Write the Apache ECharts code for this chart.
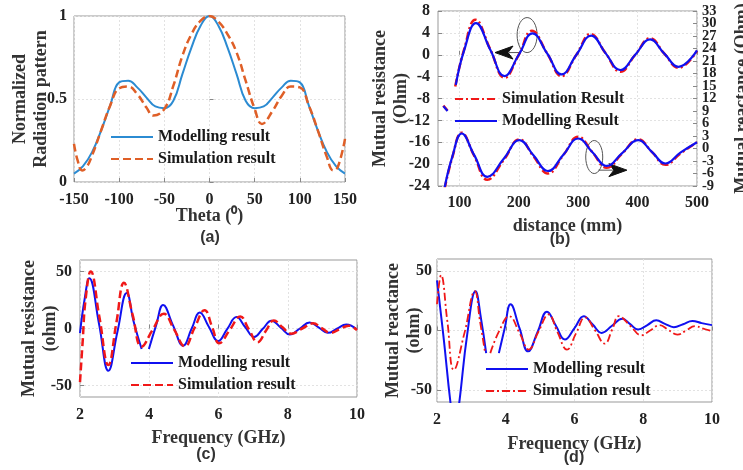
<!DOCTYPE html>
<html>
<head>
<meta charset="utf-8">
<title>Mutual impedance figure</title>
<script src="https://cdn.jsdelivr.net/npm/echarts@6/dist/echarts.min.js"></script>
<style>
  html, body { margin: 0; padding: 0; background: #fff; }
  #main { width: 743px; height: 470px; }
</style>
</head>
<body>
<div id="main"></div>
<script>
// (a) normalized radiation pattern
const thetaModel = [-150,-140,-130,-120,-110,-100,-90,-80,-70,-60,-50,-40,-30,-20,-10,0,10,20,30,40,50,60,70,80,90,100,110,120,130,140,150];
const radModel   = [0.05,0.095,0.18,0.31,0.46,0.6,0.61,0.57,0.51,0.455,0.445,0.49,0.65,0.81,0.94,1.0,0.94,0.81,0.65,0.49,0.445,0.455,0.51,0.57,0.61,0.6,0.46,0.31,0.18,0.095,0.05];
const thetaSim   = [-150,-146,-141,-136,-130,-120,-110,-100,-90,-80,-70,-62,-50,-40,-30,-20,-10,0,10,20,30,40,50,58,70,80,90,100,110,120,130,137,142,150];
const radSim     = [0.23,0.13,0.07,0.09,0.16,0.31,0.46,0.565,0.575,0.53,0.45,0.40,0.44,0.58,0.76,0.89,0.97,1.0,0.965,0.89,0.78,0.61,0.44,0.35,0.43,0.52,0.575,0.57,0.46,0.31,0.15,0.07,0.09,0.26];

// (b) mutual resistance (left axis) and reactance (right axis) vs distance
const distResModel = [94,108,128,152,176,200,223,248,272,297,322,346,371,396,421,445,469,500];
const resModel     = [-5.5,0.8,5.8,0.9,-3.9,0,3.9,0.2,-3.6,0,3.5,0.3,-2.8,0,2.8,0.2,-2.2,0.8];
const distResSim   = [93,108,127,152,176,200,222,248,272,297,321,346,371,396,421,445,469,500];
const resSim       = [-5.8,1.0,6.4,1.0,-4.2,0,4.4,0.2,-3.9,0,3.8,0.3,-3.1,0,3.0,0.2,-2.4,0.7];
const distBlip     = [73,80];
const blipModel    = [-9.4,-10.3];
const blipSim      = [-9.3,-10.2];
const distReact    = [75,88,104,125,147,175,201,225,249,275,300,324,348,374,401,424,447,472,500];
const reactModel   = [-9.5,-2.0,3.6,-1.6,-6.8,-2.4,2.0,-1.7,-5.4,-1.5,2.4,-0.9,-4.2,-1.1,2.0,-0.8,-3.6,-1.0,1.5];
const reactSim     = [-9.8,-2.2,3.8,-1.8,-7.5,-2.7,2.2,-1.9,-6.0,-1.6,2.8,-0.9,-4.6,-1.2,2.2,-0.8,-3.9,-1.2,1.5];

// (c) mutual resistance vs frequency
const freqResModel = [2.0,2.13,2.27,2.55,2.82,3.08,3.35,3.55,3.78,3.9,3.99,4.2,4.4,4.69,4.98,5.22,5.46,5.72,5.99,6.25,6.52,6.77,7.03,7.28,7.53,7.8,8.06,8.35,8.63,8.9,9.16,9.42,9.69,10];
const resModelC    = [-4,25,44,4,-37,-3,31,6,-18,null,-18,3,20.6,2.5,-15,-0.5,14,1.5,-11,-0.5,10,1.3,-7.4,-0.3,6.8,0.7,-5.3,0,5.3,0.7,-3.8,-0.2,3.5,-0.9];
const freqResSim   = [2.0,2.08,2.16,2.31,2.56,2.82,3.05,3.27,3.52,3.78,4.1,4.42,4.72,5.03,5.3,5.6,5.82,6.02,6.33,6.63,6.88,7.13,7.37,7.6,7.85,8.1,8.42,8.73,8.98,9.24,9.5,9.76,10];
const resSimC      = [-47,-10,25,50,10,-32,5,40,12,-16,-1,13,-1,-15.6,0,16,1,-13,-1,10.5,-1,-12,-2,7,1,-4.5,0,4.5,0.3,-3.8,-0.6,2.5,-1.5];

// (d) mutual reactance vs frequency
const freqReactModel = [2.0,2.2,2.39,2.52,2.65,2.88,3.12,3.28,3.43,3.6,3.8,3.97,4.14,4.4,4.65,4.93,5.2,5.46,5.72,6.0,6.27,6.53,6.79,7.09,7.39,7.62,7.85,8.12,8.38,8.63,8.89,9.16,9.43,9.7,10];
const reactModelD    = [42,-8,-60,-85,-60,-3,33,10,-19,null,-19,2,22,2,-17.5,-1,15.8,4,-7.6,2,12,5,-2,4,9.9,5.3,0.8,4.6,8.5,5.6,2.8,5.3,7.9,6.2,4.5];
const freqReactSim   = [2.0,2.12,2.3,2.49,2.8,3.1,3.25,3.4,3.48,3.55,3.8,4.1,4.4,4.67,4.95,5.25,5.5,5.78,6.05,6.31,6.6,6.88,7.1,7.29,7.62,7.95,8.2,8.48,8.73,8.99,9.25,9.5,9.75,10];
const reactSimD      = [22,46.5,8,-33,-2,33,8,-19,null,-19,-1,12,-2,-16,-1,13.5,-1,-16,-2,11,0,-11,1,12,4,-4,0,4.5,0.5,-3.4,0,3.7,1.5,-0.6];

// tick labels
const distTicks  = [100,200,300,400,500];
const ohmTicks   = [-50,0,50];
const reactTicks = [-9,-6,-3,0,3,6,9,12,15,18,21,24,27,30,33];

// annotations of (b), in data units of the left axis
const ellipseUp   = [214, 3.6];
const arrowUp     = [[203, 0.4], [160, 0.4]];
const ellipseDown = [327, -18.7];
const arrowDown   = [[334, -21.1], [382, -21.1]];

function zip(xs, ys) {
  return xs.map((x, i) => [x, ys[i] === null ? '-' : ys[i]]);
}

const serif = 'Liberation Serif';
const tickText = { fontFamily: serif, fontWeight: 'bold', fontSize: 16, color: '#222' };
const nameText = { fontFamily: serif, fontWeight: 'bold', fontSize: 18, color: '#333', lineHeight: 21 };
const gridLine = { show: true, lineStyle: { color: '#e2e2e2', type: [2, 2], width: 1 } };
const tick = { show: true, inside: true, length: 4, lineStyle: { color: '#888' } };

function axis(extra) {
  return Object.assign({
    type: 'value',
    axisLine: { show: false },
    axisTick: tick,
    splitLine: gridLine,
    nameLocation: 'middle',
    nameMoveOverlap: false,
    nameTextStyle: nameText
  }, extra);
}

// right-hand reactance axis of (b); its crowded labels are shared by two twin axes
// (every other value each) so echarts does not drop any of them
function reactAxis(values, name) {
  return axis({ gridIndex: 1, position: 'right', min: -9, max: 33, name: name, nameGap: 35,
    splitLine: { show: false },
    axisTick: Object.assign({ customValues: values }, tick),
    axisLabel: Object.assign({}, tickText, { margin: 5, fontSize: 14.5, lineHeight: 8,
                              customValues: values, showMinLabel: true, showMaxLabel: true }) });
}

function line(name, data, xi, yi, color, width, dash) {
  return {
    name: name, type: 'line', data: data, xAxisIndex: xi, yAxisIndex: yi,
    showSymbol: false, symbol: 'none', smooth: 0.45, clip: true,
    lineStyle: { color: color, width: width, type: dash || 'solid' },
    itemStyle: { color: color },
    emphasis: { disabled: true }
  };
}

function legend(names, left, top) {
  return {
    data: names, left: left, top: top, orient: 'vertical', padding: 0,
    itemWidth: 42, itemHeight: 14, itemGap: 6, selectedMode: false,
    itemStyle: { opacity: 0 },
    formatter: n => n.split('|')[0],
    textStyle: { fontFamily: serif, fontWeight: 'bold', fontSize: 16, color: '#1a1a1a' }
  };
}

const blueA = '#2b8bd2', orangeA = '#df5f27', blue = '#1010f0', red = '#f01818';
const dashed = [8, 4], dashDot = [8, 3, 2, 3];

const option = {
  animation: false,
  backgroundColor: '#fff',
  grid: [
    { left: 74,  top: 16,  width: 271, height: 166 },
    { left: 438, top: 11,  width: 259, height: 175 },
    { left: 80,  top: 260, width: 277, height: 137 },
    { left: 437, top: 259, width: 275, height: 143 }
  ].map(g => Object.assign({ show: true, borderColor: '#999', borderWidth: 1, backgroundColor: 'transparent',
                             containLabel: false, outerBoundsMode: 'none' }, g)),
  xAxis: [
    axis({ gridIndex: 0, min: -150, max: 150, interval: 50, name: 'Theta (⁰)', nameGap: 24,
           axisLabel: Object.assign({ margin: 10 }, tickText) }),
    axis({ gridIndex: 1, min: 64, max: 500, name: 'distance (mm)', nameGap: 30,
           axisTick: Object.assign({ customValues: distTicks }, tick),
           axisLabel: Object.assign({ margin: 9, customValues: distTicks }, tickText) }),
    axis({ gridIndex: 2, min: 2, max: 10, interval: 2, name: 'Frequency (GHz)', nameGap: 31,
           axisLabel: Object.assign({ margin: 10 }, tickText) }),
    axis({ gridIndex: 3, min: 2, max: 10, interval: 2, name: 'Frequency (GHz)', nameGap: 32,
           axisLabel: Object.assign({ margin: 10 }, tickText) })
  ],
  yAxis: [
    axis({ gridIndex: 0, min: 0, max: 1, interval: 0.5, name: 'Normalized\nRadiation pattern', nameGap: 22,
           axisLabel: Object.assign({ margin: 7 }, tickText) }),
    axis({ gridIndex: 1, min: -24, max: 8, interval: 4, name: 'Mutual resistance\n(Ohm)', nameGap: 26,
           axisLabel: Object.assign({ margin: 8, showMinLabel: true, showMaxLabel: true }, tickText) }),
    reactAxis(reactTicks.filter((v, i) => i % 2 === 0), 'Mutual reactance (Ohm)'),
    axis({ gridIndex: 2, min: -60, max: 60, name: 'Mutual resistance\n(ohm)', nameGap: 19,
           axisTick: Object.assign({ customValues: ohmTicks }, tick),
           axisLabel: Object.assign({ margin: 8, customValues: ohmTicks }, tickText) }),
    axis({ gridIndex: 3, min: -60, max: 60, name: 'Mutual reactance\n(ohm)', nameGap: 12,
           axisTick: Object.assign({ customValues: ohmTicks }, tick),
           axisLabel: Object.assign({ margin: 5, customValues: ohmTicks }, tickText) }),
    reactAxis(reactTicks.filter((v, i) => i % 2 === 1), '')
  ],
  legend: [
    legend(['Modelling result|a', 'Simulation result|a'], 110, 129),
    legend(['Simulation Result|b', 'Modelling Result|b'], 454, 91),
    legend(['Modelling result|c', 'Simulation result|c'], 130, 355),
    legend(['Modelling result|d', 'Simulation result|d'], 485, 361)
  ],
  series: [
    line('Modelling result|a', zip(thetaModel, radModel), 0, 0, blueA, 2),
    line('Simulation result|a', zip(thetaSim, radSim), 0, 0, orangeA, 2.5, dashed),

    line('Simulation Result|b', zip(distResSim, resSim), 1, 1, red, 2.5, dashDot),
    line('Simulation Result|b', zip(distReact, reactSim), 1, 2, red, 2.5, dashDot),
    line('Simulation Result|b', zip(distBlip, blipSim), 1, 1, red, 2.5, dashDot),
    line('Modelling Result|b', zip(distResModel, resModel), 1, 1, blue, 2.2),
    line('Modelling Result|b', zip(distReact, reactModel), 1, 2, blue, 2.2),
    line('Modelling Result|b', zip(distBlip, blipModel), 1, 1, blue, 2.2),

    line('Modelling result|c', zip(freqResModel, resModelC), 2, 3, blue, 2),
    line('Simulation result|c', zip(freqResSim, resSimC), 2, 3, red, 2.5, dashed),

    line('Modelling result|d', zip(freqReactModel, reactModelD), 3, 4, blue, 2),
    line('Simulation result|d', zip(freqReactSim, reactSimD), 3, 4, red, 1.8, dashDot)
  ]
};

const chart = echarts.init(document.getElementById('main'), null, { renderer: 'canvas' });
chart.setOption(option);

// panel captions and the ellipse/arrow annotations of (b)
const caption = (text, x, y) => ({
  type: 'text', x: x, y: y, silent: true,
  style: { text: text, align: 'center', verticalAlign: 'middle', fill: '#333',
           font: 'bold 16px "Liberation Sans", Arial, sans-serif' }
});
const toPx = p => chart.convertToPixel({ xAxisIndex: 1, yAxisIndex: 1 }, p);
function ellipse(c, rx, ry) {
  const p = toPx(c);
  return { type: 'ellipse', silent: true, shape: { cx: p[0], cy: p[1], rx: rx, ry: ry },
           style: { fill: 'none', stroke: '#555', lineWidth: 1 } };
}
function arrow(seg) {
  const a = toPx(seg[0]), b = toPx(seg[1]);
  const dir = b[0] < a[0] ? -1 : 1;
  const back = b[0] - dir * 18;
  return [
    { type: 'line', silent: true, shape: { x1: a[0], y1: a[1], x2: back + dir * 4, y2: b[1] },
      style: { stroke: '#555', lineWidth: 1 } },
    { type: 'polygon', silent: true,
      shape: { points: [[b[0], b[1]], [back, b[1] - 6.5], [b[0] - dir * 13, b[1]], [back, b[1] + 6.5]] },
      style: { fill: '#111', stroke: '#111', lineWidth: 1 } }
  ];
}

chart.setOption({
  graphic: [
    caption('(a)', 210, 238),
    caption('(b)', 560, 240),
    caption('(c)', 206, 455),
    caption('(d)', 574, 458),
    ellipse(ellipseUp, 10, 17.5),
    ellipse(ellipseDown, 8.5, 16.5)
  ].concat(arrow(arrowUp), arrow(arrowDown))
});
</script>
</body>
</html>
